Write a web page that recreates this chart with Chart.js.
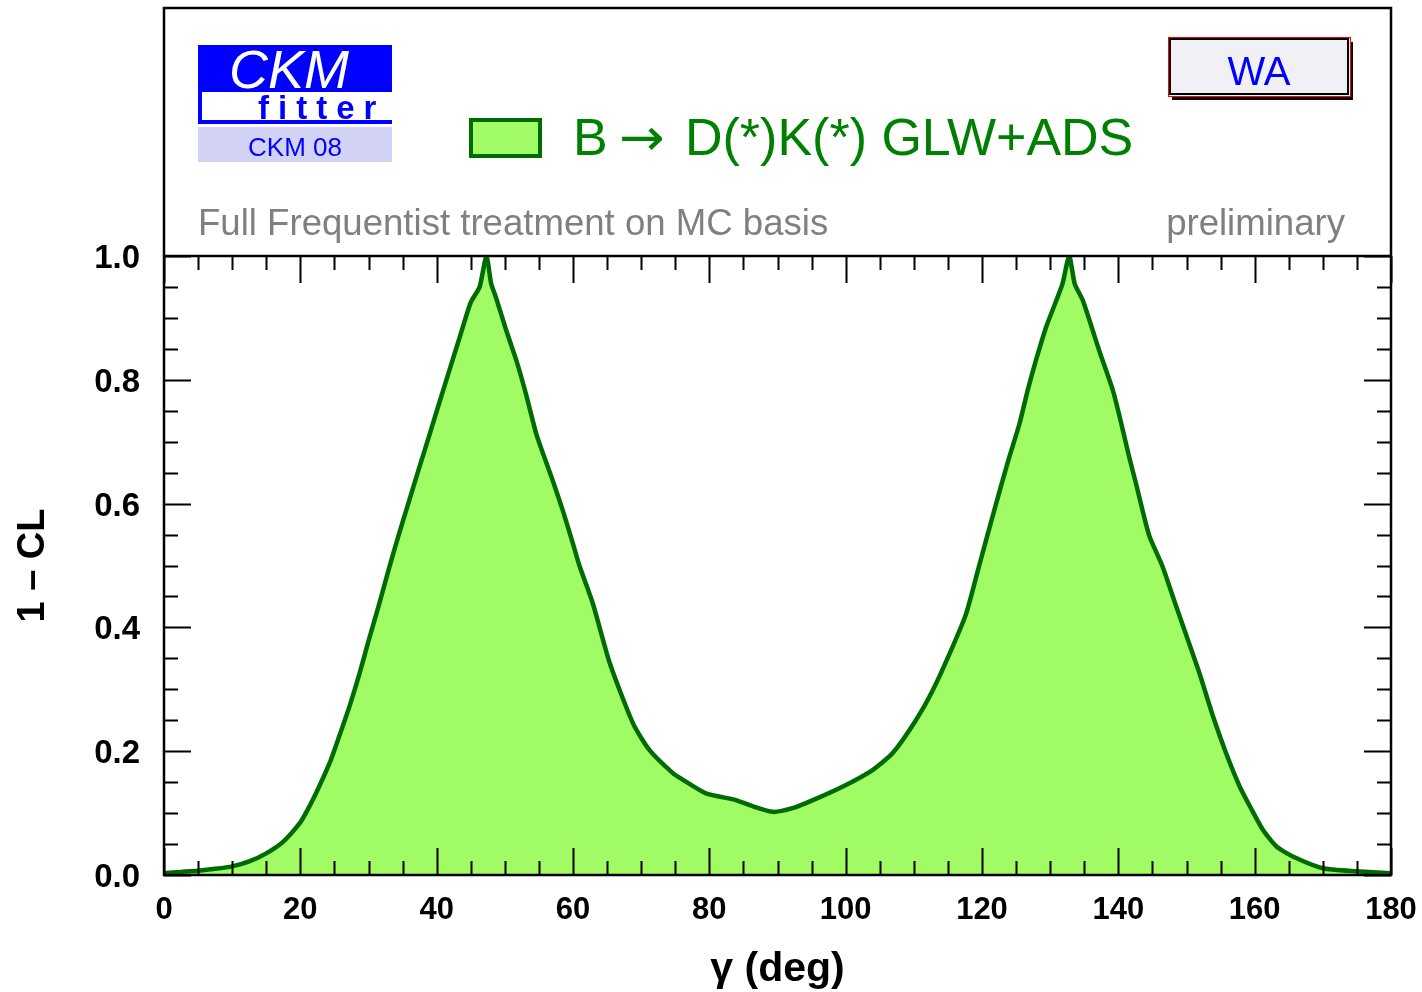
<!DOCTYPE html>
<html>
<head>
<meta charset="utf-8">
<title>CKMfitter gamma</title>
<script src="https://cdn.jsdelivr.net/npm/chart.js@4.4.1/dist/chart.umd.min.js"></script>
<style>
    body { margin: 0; background: #fff; }
    #wrap { width: 1422px; height: 992px; position: relative; }
</style>
</head>
<body>
<div id="wrap"><canvas id="grafico"></canvas></div>
<script>
// valores: gamma (graus) e 1 - CL
const gammaDeg = [0, 2.5, 5, 7.5, 10, 12.5, 15, 17.5, 20, 21, 22.3, 24.3, 25.7, 27.2, 28.7, 30, 31.5, 33,
    34.5, 36, 37.5, 39, 40.5, 42, 43.5, 45, 46.3, 47.3, 48.0, 48.7, 50.2, 51.7,
    53.1, 54.6, 55.6, 57.0, 58.5, 60.0, 61.0, 62.9, 65.4, 68.8, 71.2, 74.6, 76.1, 79.5, 83.9, 86.4, 89.3,
    92.2, 95.2, 99.6, 104.0, 106.9, 110.3, 112.8, 115.7, 117.7, 119.4, 120.6, 122.6, 124.0, 125.5, 126.7,
    127.9, 129.4, 130.9, 131.8, 132.8, 133.6, 134.8, 137.2, 139.2, 140.2, 141.6, 142.6, 143.8, 144.6, 146.5,
    148.3, 150.2, 151.9, 153.9, 155.8, 157.8, 159.3, 161.2, 163.2, 165.6, 170.0, 174.9, 180];
const oneMinusCL = [0.003, 0.005, 0.007, 0.010, 0.014, 0.022, 0.035, 0.054, 0.085, 0.104, 0.132, 0.181, 0.224,
    0.272, 0.326, 0.378, 0.435, 0.495, 0.552, 0.606, 0.660, 0.713, 0.767, 0.820, 0.873, 0.925, 0.950, 1.0,
    0.955, 0.933, 0.880, 0.831, 0.777, 0.713, 0.681, 0.638, 0.589, 0.535, 0.498, 0.439,
    0.342, 0.245, 0.202, 0.165, 0.154, 0.132, 0.121, 0.111, 0.102, 0.108, 0.121, 0.143, 0.170, 0.197, 0.250,
    0.299, 0.369, 0.423, 0.492, 0.541, 0.621, 0.675, 0.729, 0.783, 0.831, 0.885, 0.928, 0.955, 1.0, 0.955,
    0.928, 0.847, 0.783, 0.740, 0.675, 0.632, 0.578, 0.546, 0.498, 0.44, 0.380, 0.326, 0.256, 0.197, 0.143,
    0.111, 0.073, 0.046, 0.030, 0.011, 0.006, 0.003];

const xTicks = [0, 20, 40, 60, 80, 100, 120, 140, 160, 180];
const yTicks = [0.0, 0.2, 0.4, 0.6, 0.8, 1.0];
const serieLabel = ['B', '\u2192', 'D(*)K(*) GLW+ADS'];
const tituloX = '\u03b3 (deg)';
const tituloY = '1 \u2013 CL';
const textoEsq = 'Full Frequentist treatment on MC basis';
const textoDir = 'preliminary';
const logoTopo = 'CKM';
const logoMeio = 'fitter';
const logoBase = 'CKM 08';
const caixaWA = 'WA';

const verdeEscuro = '#006c00';
const verdeClaro = '#a0fb64';
const FONTE = '"Liberation Sans", Arial, Helvetica, sans-serif';

// moldura, ticks internos (estilo ROOT) e cabecalho
const decoracao = {
    id: 'decoracao',
    afterDraw(chart) {
        const ctx = chart.ctx;
        const a = chart.chartArea;
        const sx = chart.scales.x, sy = chart.scales.y;
        const topo = 8;
        ctx.save();

        // ticks
        ctx.strokeStyle = '#000';
        ctx.lineWidth = 2;
        ctx.beginPath();
        for (let v = 0; v <= 180; v += 5) {
            const px = Math.round(sx.getPixelForValue(v)) + 0.5;
            const len = (v % 20 === 0) ? 27 : 14;
            ctx.moveTo(px, a.bottom); ctx.lineTo(px, a.bottom - len);
            ctx.moveTo(px, a.top); ctx.lineTo(px, a.top + len);
        }
        for (let i = 0; i <= 20; i++) {
            const py = Math.round(sy.getPixelForValue(i * 0.05)) + 0.5;
            const len = (i % 4 === 0) ? 27 : 14;
            ctx.moveTo(a.left, py); ctx.lineTo(a.left + len, py);
            ctx.moveTo(a.right, py); ctx.lineTo(a.right - len, py);
        }
        ctx.stroke();

        // moldura
        ctx.lineWidth = 2.5;
        ctx.strokeRect(a.left, topo, a.right - a.left, a.bottom - topo);
        ctx.beginPath();
        ctx.moveTo(a.left, a.top); ctx.lineTo(a.right, a.top);
        ctx.stroke();

        // logo CKMfitter
        ctx.fillStyle = '#0000ff';
        ctx.fillRect(198, 45, 194, 47);
        ctx.fillRect(198, 92, 4, 32);
        ctx.fillRect(198, 120, 194, 4);
        ctx.fillStyle = '#d2d2f5';
        ctx.fillRect(198, 127, 194, 35);
        ctx.fillStyle = '#fff';
        ctx.font = 'italic 54px ' + FONTE;
        ctx.textAlign = 'center';
        ctx.textBaseline = 'alphabetic';
        ctx.fillText(logoTopo, 289, 88);
        ctx.fillStyle = '#0000ff';
        ctx.font = 'bold 33px ' + FONTE;
        ctx.textAlign = 'left';
        let xl = 258;
        for (const c of logoMeio) {
            ctx.fillText(c, xl, 119);
            xl += ctx.measureText(c).width + 9;
        }
        ctx.font = '26px ' + FONTE;
        ctx.textAlign = 'center';
        ctx.fillText(logoBase, 295, 156);

        // legenda
        const ds = chart.data.datasets[0];
        ctx.fillStyle = ds.backgroundColor;
        ctx.strokeStyle = ds.borderColor;
        ctx.lineWidth = 4;
        ctx.fillRect(471, 120, 69, 36);
        ctx.strokeRect(471, 120, 69, 36);
        ctx.fillStyle = '#008000';
        ctx.textAlign = 'left';
        ctx.font = '52px ' + FONTE;
        ctx.fillText(ds.label[0], 573, 155);
        ctx.font = '52px "DejaVu Sans"';
        ctx.save();
        ctx.translate(619, 155);
        ctx.scale(1.05, 1);
        ctx.fillText(ds.label[1], 0, 0);
        ctx.restore();
        ctx.font = '52px ' + FONTE;
        ctx.fillText(ds.label[2], 685, 155);

        // caixa WA
        ctx.fillStyle = '#000';
        ctx.fillRect(1172, 42, 181, 58);
        ctx.fillStyle = '#f1f1f5';
        ctx.fillRect(1168, 37, 182, 59);
        ctx.strokeStyle = '#000';
        ctx.lineWidth = 2;
        ctx.strokeRect(1170, 39, 178, 55);
        ctx.strokeStyle = '#ff0000';
        ctx.lineWidth = 1;
        ctx.strokeRect(1168.5, 37.5, 182, 59);
        ctx.fillStyle = '#0000ff';
        ctx.font = '40px ' + FONTE;
        ctx.textAlign = 'center';
        ctx.fillText(caixaWA, 1259, 85);

        // textos cinza
        ctx.fillStyle = '#808080';
        ctx.font = '36.6px ' + FONTE;
        ctx.textAlign = 'left';
        ctx.fillText(textoEsq, 198, 235);
        ctx.textAlign = 'right';
        ctx.fillText(textoDir, 1345, 235);
        ctx.restore();
    }
};

document.addEventListener('DOMContentLoaded', function() {
    const pontos = gammaDeg.map((g, i) => ({ x: g, y: oneMinusCL[i] }));
    const ctx = document.getElementById('grafico').getContext('2d');
    new Chart(ctx, {
        type: 'line',
        data: {
            datasets: [{
                label: serieLabel,
                data: pontos,
                fill: 'origin',
                backgroundColor: verdeClaro,
                borderColor: verdeEscuro,
                borderWidth: 4.5,
                pointRadius: 0,
                tension: 0.2
            }]
        },
        options: {
            responsive: true,
            maintainAspectRatio: false,
            animation: false,
            layout: { padding: { top: 256, right: 31, left: 0, bottom: 0 } },
            plugins: { legend: { display: false }, tooltip: { enabled: false } },
            scales: {
                x: {
                    type: 'linear', min: 0, max: 180,
                    afterFit: s => { s.height = 117; s.paddingLeft = 0; s.paddingRight = 0; },
                    afterBuildTicks: s => { s.ticks = xTicks.map(v => ({ value: v })); },
                    grid: { display: false, drawTicks: false },
                    border: { display: false },
                    ticks: { color: '#000', padding: 17, maxRotation: 0, font: { family: FONTE, size: 31, weight: 'bold' } },
                    title: { display: true, text: tituloX, color: '#000', padding: { top: 0, bottom: 2 },
                        font: { family: FONTE, size: 41, weight: 'bold', lineHeight: 1.0 } }
                },
                y: {
                    min: 0, max: 1,
                    afterFit: s => { s.width = 164; s.paddingTop = 0; s.paddingBottom = 0; },
                    afterBuildTicks: s => { s.ticks = yTicks.map(v => ({ value: v })); },
                    grid: { display: false, drawTicks: false },
                    border: { display: false },
                    ticks: { color: '#000', padding: 24, labelOffset: 3, callback: v => v.toFixed(1),
                        font: { family: FONTE, size: 33, weight: 'bold' } },
                    title: { display: true, text: tituloY, color: '#000', padding: { top: 11, bottom: 0 },
                        font: { family: FONTE, size: 38, weight: 'bold' } }
                }
            }
        },
        plugins: [decoracao]
    });
});
</script>
</body>
</html>
